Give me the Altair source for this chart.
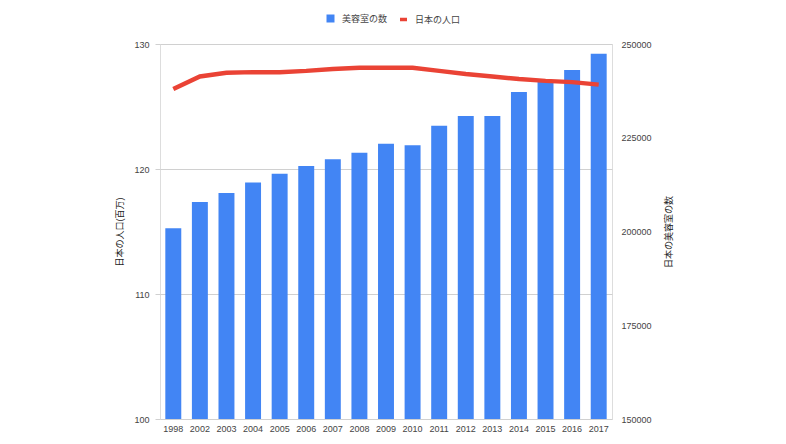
import altair as alt
import pandas as pd

years = ["1998", "2002", "2003", "2004", "2005", "2006", "2007", "2008", "2009",
         "2010", "2011", "2012", "2013", "2014", "2015", "2016", "2017"]
salons = [200900, 207900, 210300, 213100, 215400, 217500, 219300, 221000, 223400,
          223000, 228200, 230800, 230800, 237200, 240200, 243100, 247400]
population = [126.4, 127.4, 127.7, 127.75, 127.75, 127.85, 128.0, 128.1, 128.1,
              128.1, 127.85, 127.6, 127.4, 127.2, 127.05, 126.95, 126.75]

df = pd.DataFrame({
    "year": years,
    "salons": salons,
    "population": population,
    "s1": ["美容室の数"] * len(years),
    "s2": ["日本の人口"] * len(years),
})

FONT = "Liberation Sans, Noto Sans CJK JP, sans-serif"
BLUE = "#4285F4"
RED = "#EA4335"

x = alt.X("year:N", sort=years, title=None,
          scale=alt.Scale(paddingInner=0.4, paddingOuter=0.2),
          axis=alt.Axis(labelAngle=0, ticks=False, domain=False, labelPadding=5,
                        labelFontSize=9, labelColor="#444", labelFont=FONT))

bars = alt.Chart(df).mark_bar(color=BLUE, clip=True).encode(
    x=x,
    y=alt.Y("salons:Q", title="日本の美容室の数",
            scale=alt.Scale(domain=[150000, 250000], nice=False, zero=False),
            axis=alt.Axis(orient="right", values=[150000, 175000, 200000, 225000, 250000],
                          format="d", grid=False, ticks=False, domain=False,
                          labelPadding=9, labelFontSize=9, labelColor="#444", labelFont=FONT,
                          titleAngle=270, titlePadding=22, titleFontSize=9,
                          titleFontWeight="normal", titleColor="#222", titleFont=FONT)),
    fill=alt.Fill("s1:N", scale=alt.Scale(range=[BLUE]),
                  legend=alt.Legend(title=None, orient="none", legendX=166, legendY=-30,
                                    symbolType="square", symbolSize=64, symbolStrokeWidth=0,
                                    symbolOpacity=1, labelFontSize=9, labelColor="#444",
                                    labelFont=FONT, labelOffset=7, padding=0)),
)

line = alt.Chart(df).mark_line(strokeWidth=4.5).encode(
    x=x,
    y=alt.Y("population:Q", title="日本の人口(百万)",
            scale=alt.Scale(domain=[100, 130], nice=False, zero=False),
            axis=alt.Axis(orient="left", values=[100, 110, 120, 130], grid=True,
                          gridColor="#d0d0d0", tickColor="#d0d0d0", tickSize=5,
                          domain=False, labelPadding=6, labelFontSize=9, labelColor="#444",
                          labelFont=FONT, titleAngle=270, titlePadding=9, titleFontSize=9,
                          titleFontWeight="normal", titleColor="#222", titleFont=FONT)),
    stroke=alt.Stroke("s2:N", scale=alt.Scale(range=[RED]),
                      legend=alt.Legend(title=None, orient="none", legendX=238, legendY=-30,
                                        symbolType="stroke", symbolSize=49,
                                        symbolStrokeWidth=3.5, labelFontSize=9,
                                        labelColor="#444", labelFont=FONT, labelOffset=6,
                                        padding=0)),
)

chart = alt.layer(bars, line).resolve_scale(y="independent").properties(
    width=452, height=375,
    autosize=alt.AutoSizeParams(type="none"),
    padding={"left": 160, "top": 44, "right": 174, "bottom": 25},
).configure_view(stroke=None).configure(background="white")

chart.save("out.html", embed_options={"renderer": "svg", "actions": False})
